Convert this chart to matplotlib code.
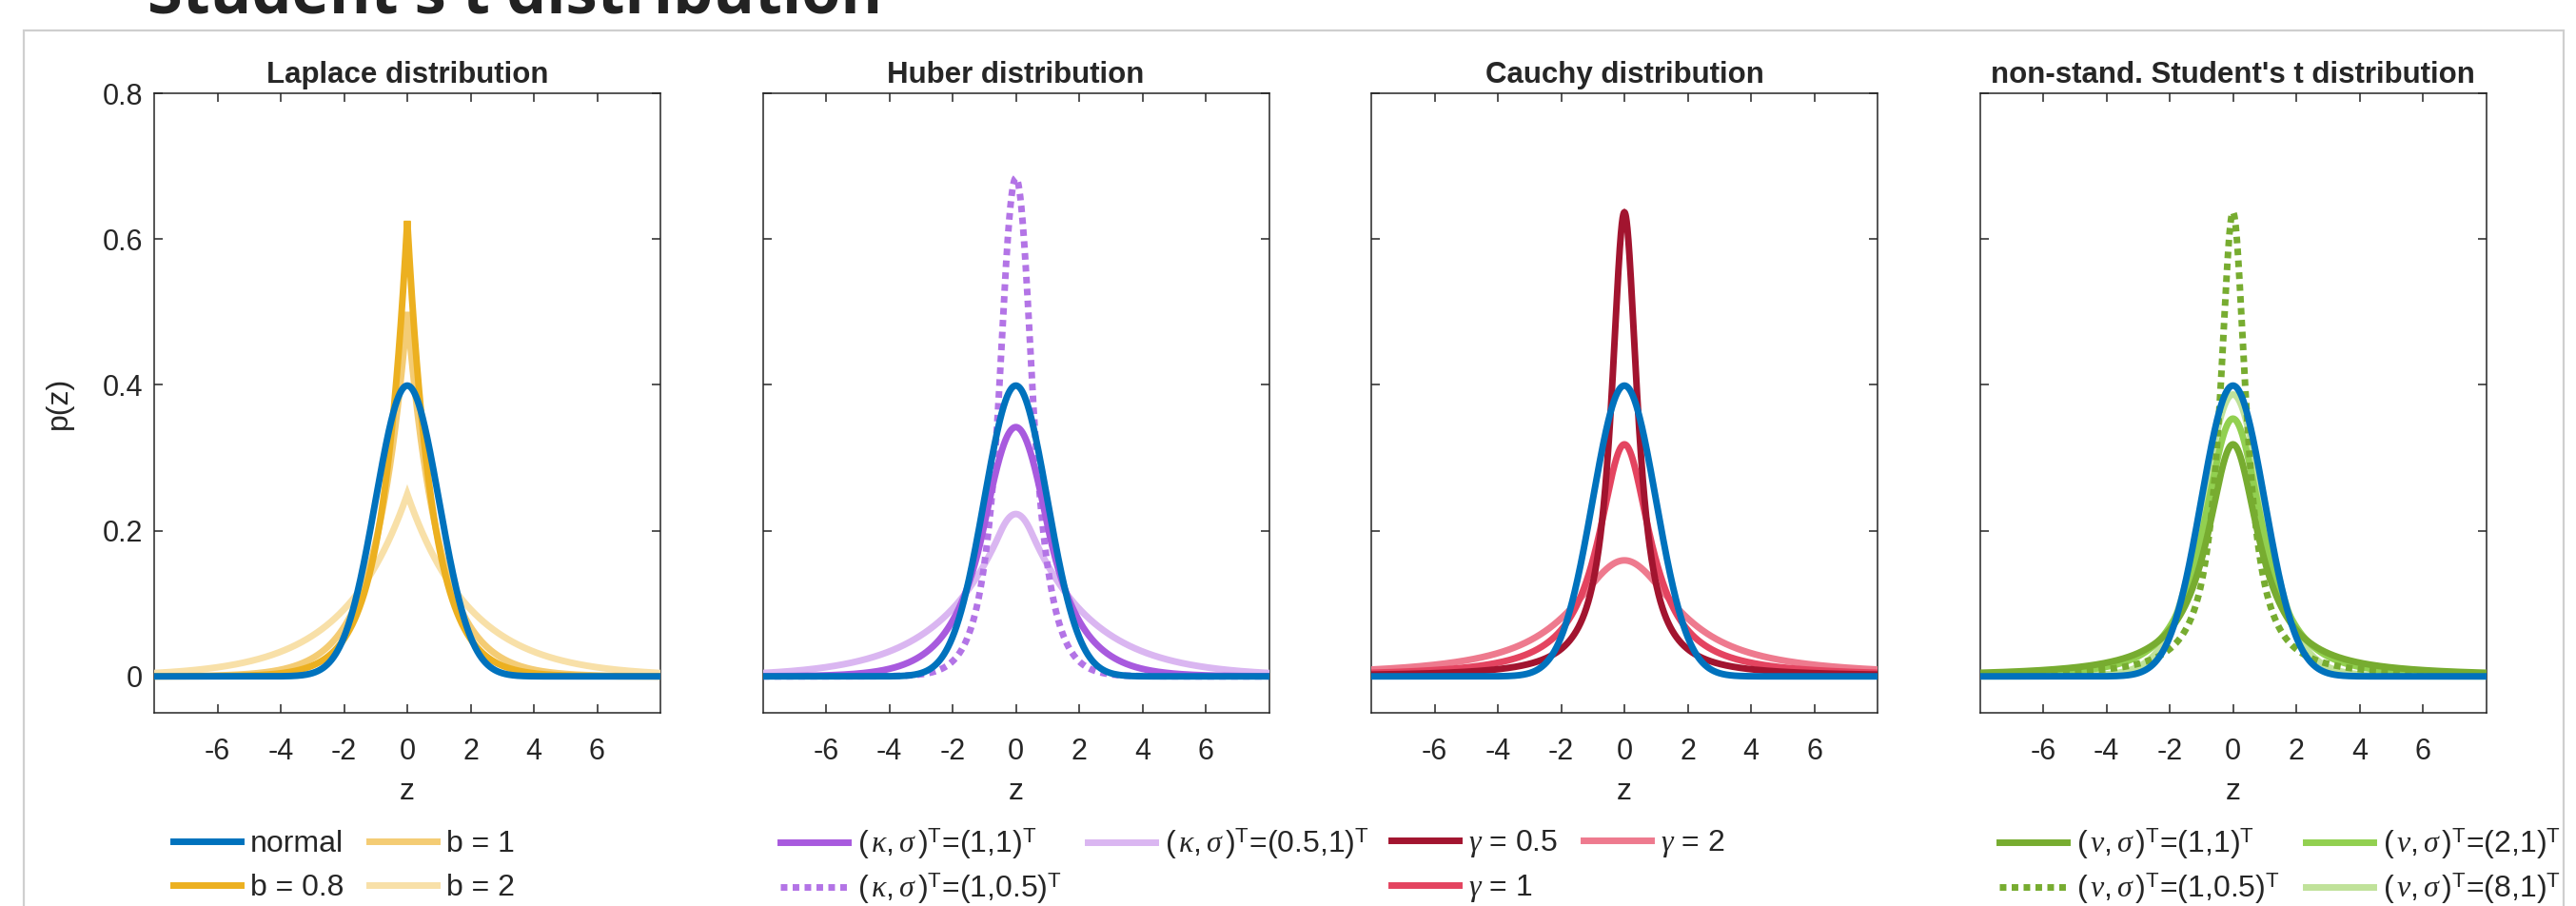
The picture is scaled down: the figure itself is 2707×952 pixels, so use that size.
import numpy as np
import matplotlib
matplotlib.use("Agg")
import matplotlib.pyplot as plt
from matplotlib.patches import Rectangle
from math import erf, gamma, sqrt, pi

plt.rcParams["font.family"] = ["Liberation Sans", "DejaVu Sans"]
plt.rcParams["mathtext.fontset"] = "custom"
plt.rcParams["mathtext.rm"] = "Liberation Sans"
plt.rcParams["mathtext.it"] = "Liberation Serif:italic"
plt.rcParams["mathtext.bf"] = "Liberation Sans:bold"
plt.rcParams["axes.unicode_minus"] = False

W, H = 2707, 952
INK = "#262626"

# distribution parameters
laplace_b = [0.8, 1, 2]
huber_kappa_sigma = [(1, 1), (1, 0.5), (0.5, 1)]
cauchy_gamma = [0.5, 1, 2]
student_nu_sigma = [(1, 1), (1, 0.5), (2, 1), (8, 1)]

titles = ["Laplace distribution", "Huber distribution", "Cauchy distribution",
          "non-stand. Student's t distribution"]
x_ticks = [-6, -4, -2, 0, 2, 4, 6]
y_ticks = [0, 0.2, 0.4, 0.6, 0.8]
y_ticklabels = ["0", "0.2", "0.4", "0.6", "0.8"]

z = np.linspace(-8, 8, 3201)


def normal_pdf(z):
    return np.exp(-z ** 2 / 2) / sqrt(2 * pi)


def laplace_pdf(z, b):
    return np.exp(-np.abs(z) / b) / (2 * b)


def huber_pdf(z, k, s):
    x = np.abs(z / s)
    rho = np.where(x <= k, x ** 2 / 2, k * x - k ** 2 / 2)
    c = sqrt(2 * pi) * erf(k / sqrt(2)) + 2 * np.exp(-k ** 2 / 2) / k
    return np.exp(-rho) / (s * c)


def cauchy_pdf(z, g):
    return g / (pi * (z ** 2 + g ** 2))


def student_pdf(z, nu, s):
    c = gamma((nu + 1) / 2) / (gamma(nu / 2) * sqrt(nu * pi) * s)
    return c * (1 + (z / s) ** 2 / nu) ** (-(nu + 1) / 2)


def kv(sym, a, b):
    return r"$(\,\%s,\sigma\,)^{\mathrm{T}}$=(%s,%s)$^{\mathrm{T}}$" % (sym, a, b)


dot = (0, (1.0, 0.8))
# (label, color, linestyle, y) in legend order
panels = [
    [("b = %g" % laplace_b[0], "#ECB020", "-", laplace_pdf(z, laplace_b[0])),
     ("b = %g" % laplace_b[1], "#F4CC74", "-", laplace_pdf(z, laplace_b[1])),
     ("b = %g" % laplace_b[2], "#F8E0A8", "-", laplace_pdf(z, laplace_b[2]))],
    [(kv("kappa", *huber_kappa_sigma[0]), "#A85ADE", "-", huber_pdf(z, *huber_kappa_sigma[0])),
     (kv("kappa", *huber_kappa_sigma[1]), "#B374E6", dot, huber_pdf(z, *huber_kappa_sigma[1])),
     (kv("kappa", *huber_kappa_sigma[2]), "#DAB6F1", "-", huber_pdf(z, *huber_kappa_sigma[2]))],
    [(r"$\gamma$ = %g" % cauchy_gamma[0], "#A2142F", "-", cauchy_pdf(z, cauchy_gamma[0])),
     (r"$\gamma$ = %g" % cauchy_gamma[1], "#E44460", "-", cauchy_pdf(z, cauchy_gamma[1])),
     (r"$\gamma$ = %g" % cauchy_gamma[2], "#EE7A8E", "-", cauchy_pdf(z, cauchy_gamma[2]))],
    [(kv("nu", *student_nu_sigma[0]), "#77AC30", "-", student_pdf(z, *student_nu_sigma[0])),
     (kv("nu", *student_nu_sigma[1]), "#77AC30", dot, student_pdf(z, *student_nu_sigma[1])),
     (kv("nu", *student_nu_sigma[2]), "#92D050", "-", student_pdf(z, *student_nu_sigma[2])),
     (kv("nu", *student_nu_sigma[3]), "#C0E29A", "-", student_pdf(z, *student_nu_sigma[3]))],
]
legend_x = [182, 820, 1462, 2101]
legend_gap = [0.5, 0.3, 0.45, 0.3]

fig = plt.figure(figsize=(W / 100, H / 100), dpi=100)
lw = 5.0
fs = 23
ax_left = [162, 801.5, 1441, 2080.5]
ax_w, ax_top, ax_bot = 532, 98, 749

for i, series in enumerate(panels):
    ax = fig.add_axes([ax_left[i] / W, 1 - ax_bot / H, ax_w / W, (ax_bot - ax_top) / H])
    handles = []
    nh, = ax.plot(z, normal_pdf(z), color="#0072BD", lw=lw, zorder=5, label="normal")
    if i == 0:
        handles.append(nh)
    for j, (lab, col, ls, y) in enumerate(series):
        h, = ax.plot(z, y, color=col, ls=ls, lw=lw, zorder=4 - j * 0.1,
                     solid_joinstyle="miter", dash_capstyle="butt", label=lab)
        handles.append(h)
    ax.set_xlim(-8, 8)
    ax.set_ylim(-0.05, 0.8)
    ax.set_xticks(x_ticks)
    ax.set_yticks(y_ticks)
    if i == 0:
        ax.set_yticklabels(y_ticklabels)
        ax.set_ylabel("p(z)", fontsize=fs, color=INK)
        ax.yaxis.set_label_coords(-0.16, 0.5)
    else:
        ax.set_yticklabels([])
    ax.tick_params(direction="in", length=6.5, width=1.1, top=True, right=True,
                   labelsize=22, colors=INK, pad=8.5)
    ax.tick_params(axis="x", pad=19)
    for sp in ax.spines.values():
        sp.set_linewidth(1.1)
        sp.set_color(INK)
    ax.set_xlabel("z", fontsize=fs, color=INK)
    ax.xaxis.set_label_coords(0.5, -0.105)
    ax.set_title(titles[i], fontsize=22.5, fontweight="bold", color=INK, pad=8)
    ax.legend(handles=handles, ncol=2, loc="center left",
              bbox_to_anchor=(legend_x[i] / W, 1 - 910 / H), bbox_transform=fig.transFigure,
              frameon=False, fontsize=fs, borderpad=0, borderaxespad=0,
              handlelength=2.22, handletextpad=0.31, columnspacing=0.85,
              labelspacing=legend_gap[i], labelcolor=INK)

# slide heading, cut off at the top edge of the screenshot
fig.text(155 / W, 1 - 13 / H, "Student's t distribution", fontsize=48, fontweight="bold",
         family=["Open Sans", "DejaVu Sans"], color="#222222", va="baseline")

# gray slide frame; the screenshot is cropped at its right edge
fig.add_artist(Rectangle((2696 / W, 0), 1, 1, transform=fig.transFigure,
                         facecolor="white", edgecolor="none", zorder=10))
fig.add_artist(Rectangle((25 / W, -0.1), (2694 - 25) / W, 0.1 + (H - 32) / H,
                         transform=fig.transFigure, fill=False, edgecolor="#cfcfcf",
                         lw=1.6, zorder=11))

fig.savefig("out.png", dpi=100)
